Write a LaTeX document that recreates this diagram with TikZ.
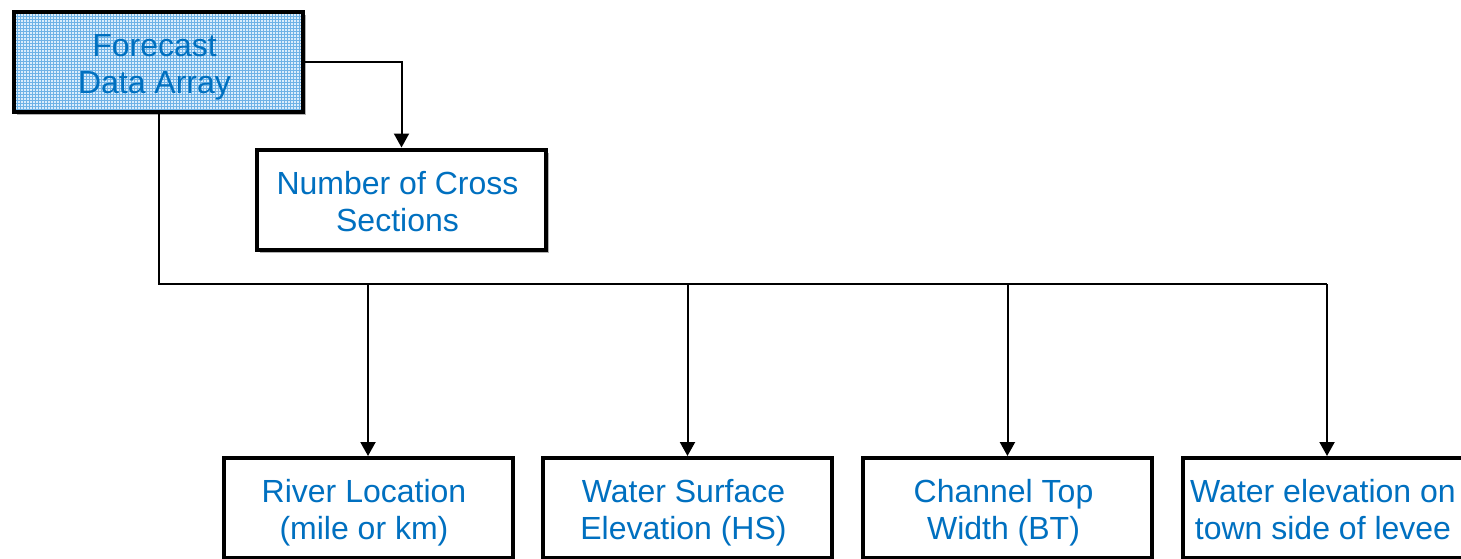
\documentclass[tikz,border=0pt]{standalone}
\usepackage{fontspec}
\setmainfont{Liberation Sans}
\usetikzlibrary{arrows.meta,shadows}
\definecolor{txtblue}{RGB}{0,112,192}
\definecolor{gridbg}{RGB}{218,237,252}
\definecolor{gridln}{RGB}{110,178,230}
\tikzset{
  box/.style={draw=black, line width=4pt, fill=white, rectangle,
    minimum width=289pt, minimum height=100pt, inner sep=0pt},
  boxtext/.style={align=center, text=txtblue, inner sep=0pt,
    text height=63pt, text depth=0pt, font=\fontsize{32}{37}\selectfont},
  shade box/.style={drop shadow={shadow xshift=3pt, shadow yshift=-3pt,
    fill=black!30, opacity=1}},
  gridfill/.style={fill=gridbg, path picture={
    \draw[gridln, line width=0.6pt, step=3pt]
      (path picture bounding box.south west) grid
      (path picture bounding box.north east);}},
  link/.style={draw=black, line width=2pt},
  arr/.style={link, -{Triangle[length=14pt,width=15pt]}}
}
% a framed box with its two-line caption set slightly left of centre
\newcommand\labelbox[4][]{%
  \node[box,#1] (#2) at #3 {};
  \node[boxtext] (#2-t) at ([xshift=-4pt]#2.center) {#4};}
\begin{document}
\begin{tikzpicture}[x=1pt,y=-1pt]
  \useasboundingbox (0,0) rectangle (1461,558);
  \clip (0,0) rectangle (1461,558);

  % top row
  \labelbox[shade box, gridfill]{fc}{(158.5,61.5)}{Forecast\\Data Array}
  \labelbox[shade box]{num}{(401.5,199.5)}{Number of Cross\\Sections}

  % bottom row (cut by the page edge)
  \labelbox{b1}{(368,508)}{River Location\\(mile or km)}
  \labelbox{b2}{(687.5,508)}{Water Surface\\Elevation (HS)}
  \labelbox{b3}{(1007.5,508)}{Channel Top\\Width (BT)}
  \labelbox{b4}{(1327,508)}{Water elevation on\\town side of levee}

  % connectors
  \draw[arr] (fc.east) -| (num.north);
  \coordinate (bus) at (0,284);
  \draw[link] (fc.south) |- (b4.north |- bus);
  \foreach \b in {b1,b2,b3,b4}
    \draw[arr] (\b.north |- bus) -- (\b.north);
\end{tikzpicture}
\end{document}
